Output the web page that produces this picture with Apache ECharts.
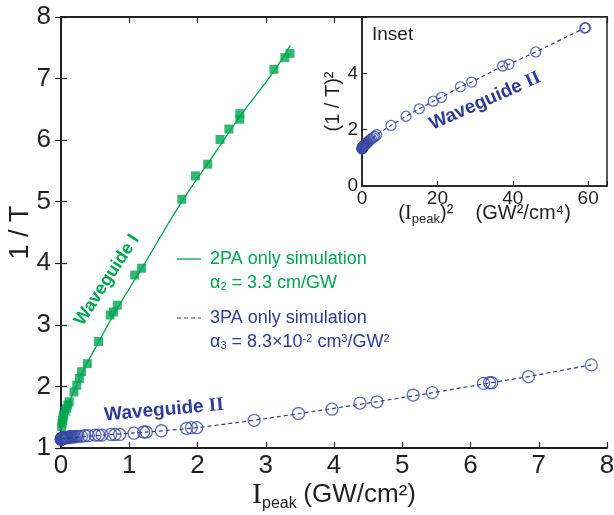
<!DOCTYPE html>
<html>
<head>
<meta charset="utf-8">
<script src="https://cdn.jsdelivr.net/npm/echarts@6/dist/echarts.min.js"></script>
<style>
  html, body { margin: 0; padding: 0; background: #fff; }
  #chart { width: 614px; height: 515px; }
</style>
</head>
<body>
<div id="chart"></div>
<script>
// waveguide I, measured (filled squares)
const sqX = [0.01, 0.015, 0.025, 0.03, 0.04, 0.06, 0.08, 0.1, 0.12, 0.19, 0.23, 0.27, 0.30, 0.385, 0.55, 0.72, 0.77, 0.825, 1.08, 1.18, 1.77, 1.97, 2.15, 2.33, 2.46, 2.62, 2.62, 3.12, 3.28, 3.355]
const sqY = [1.35, 1.40, 1.45, 1.50, 1.54, 1.60, 1.64, 1.70, 1.75, 1.91, 2.02, 2.13, 2.24, 2.37, 2.73, 3.16, 3.21, 3.32, 3.81, 3.92, 5.04, 5.42, 5.61, 6.01, 6.18, 6.34, 6.43, 7.15, 7.34, 7.41]
// 2PA only simulation
const simX = [0, 0.1, 0.3, 0.55, 0.8, 1.2, 1.77, 2.2, 2.62, 3.12, 3.36]
const simY = [1.33, 1.68, 2.2, 2.72, 3.22, 3.95, 5.0, 5.7, 6.38, 7.12, 7.54]
// waveguide II, measured (open circles)
const cX = [0.002, 0.004, 0.006, 0.008, 0.01, 0.012, 0.015, 0.018, 0.02, 0.022, 0.026, 0.03, 0.035, 0.04, 0.045, 0.05, 0.055, 0.06, 0.065, 0.07, 0.075, 0.085, 0.09, 0.1, 0.11, 0.12, 0.13, 0.14, 0.15, 0.16, 0.18, 0.2, 0.22, 0.25, 0.3, 0.35, 0.40, 0.50, 0.55, 0.60, 0.73, 0.79, 0.86, 1.07, 1.21, 1.25, 1.47, 1.84, 1.91, 1.99, 2.83, 3.48, 3.97, 4.38, 4.63, 5.16, 5.44, 6.19, 6.28, 6.31, 6.85, 7.77]
const cY = [1.14, 1.14, 1.15, 1.15, 1.15, 1.15, 1.15, 1.16, 1.16, 1.16, 1.16, 1.16, 1.16, 1.16, 1.17, 1.17, 1.17, 1.17, 1.17, 1.17, 1.17, 1.17, 1.17, 1.17, 1.17, 1.18, 1.18, 1.18, 1.18, 1.18, 1.18, 1.18, 1.19, 1.19, 1.19, 1.2, 1.2, 1.21, 1.21, 1.21, 1.22, 1.22, 1.22, 1.24, 1.26, 1.26, 1.28, 1.32, 1.33, 1.33, 1.45, 1.56, 1.63, 1.73, 1.75, 1.86, 1.90, 2.05, 2.06, 2.06, 2.16, 2.35]
// 3PA only simulation
const sim3X = [0, 0.5, 1.0, 1.5, 2.0, 2.83, 3.5, 4.5, 5.3, 6.3, 6.85, 7.77]
const sim3Y = [1.15, 1.2, 1.24, 1.28, 1.33, 1.45, 1.56, 1.73, 1.87, 2.06, 2.16, 2.35]
// inset: (I_peak)^2 vs (1/T)^2
const inX = [0.01, 0.02, 0.04, 0.05, 0.07, 0.1, 0.13, 0.16, 0.2, 0.25, 0.3, 0.4, 0.5, 0.6, 0.7, 0.8, 0.9, 1.0, 1.2, 1.4, 1.5, 1.8, 2.1, 2.5, 3.0, 3.4, 3.9, 7.7, 11.7, 15.2, 18.9, 21.1, 26.1, 29.1, 37.3, 39.0, 46.1, 59.1, 59.3]
const inY = [1.31, 1.33, 1.34, 1.34, 1.35, 1.36, 1.37, 1.37, 1.38, 1.39, 1.40, 1.42, 1.43, 1.44, 1.45, 1.47, 1.48, 1.50, 1.52, 1.54, 1.55, 1.59, 1.64, 1.67, 1.72, 1.76, 1.82, 2.15, 2.48, 2.74, 3.01, 3.15, 3.52, 3.69, 4.26, 4.32, 4.76, 5.61, 5.62]
const inLineX = [0, 1, 2.1, 3.9, 7.7, 11.7, 15.2, 18.9, 21.1, 26.1, 29.1, 37.3, 39.0, 46.1, 59.1]
const inLineY = [1.33, 1.5, 1.64, 1.82, 2.15, 2.48, 2.74, 3.01, 3.15, 3.52, 3.69, 4.26, 4.32, 4.76, 5.61]

const GREEN = '#00a650'
const BLUE = '#2e3b98'
const RING = '#3a4aa6'
const INK = '#231f20'
const SANS = 'Liberation Sans'
const SERIF = 'Liberation Serif'

const zip = (xs, ys) => xs.map((x, i) => [x, ys[i]])

const myChart = echarts.init(document.getElementById('chart'))

const mainAxisX = (pos, showLabel) => ({
  type: 'value', gridIndex: 0, position: pos, min: 0, max: 8, interval: 1,
  splitLine: { show: false },
  axisLine: { lineStyle: { color: INK, width: 2 } },
  axisTick: { inside: true, length: 6, lineStyle: { color: INK, width: 1.2 } },
  axisLabel: { show: showLabel, fontSize: 26, fontFamily: SANS, color: INK, margin: 5 }
})
const mainAxisY = (pos, showLabel) => ({
  type: 'value', gridIndex: 0, position: pos, min: 1, max: 8, interval: 1,
  splitLine: { show: false },
  axisLine: { lineStyle: { color: INK, width: 2 } },
  axisTick: { inside: true, length: 6, lineStyle: { color: INK, width: 1.2 } },
  axisLabel: { show: showLabel, fontSize: 26, fontFamily: SANS, color: INK, margin: 10 }
})

const xMain = mainAxisX('bottom', true)
xMain.name = '{i|I}{sub|peak}  {t|(GW/cm²)}'
xMain.nameLocation = 'middle'
xMain.nameGap = 30
xMain.nameMoveOverlap = false
xMain.nameTextStyle = {
  color: INK,
  rich: {
    i: { fontFamily: SERIF, fontSize: 30, color: INK, lineHeight: 34 },
    sub: { fontFamily: SANS, fontSize: 16, color: INK, lineHeight: 16, verticalAlign: 'bottom' },
    t: { fontFamily: SANS, fontSize: 26, color: INK, lineHeight: 34 }
  }
}
const yMain = mainAxisY('left', true)
yMain.name = '1 / T'
yMain.nameLocation = 'middle'
yMain.nameGap = 27
yMain.nameMoveOverlap = false
yMain.nameTextStyle = { fontFamily: SANS, fontSize: 27, color: INK }

const wgRich = (color) => ({
  s: { fontFamily: SERIF, fontWeight: 'bold', fontSize: 19, fill: color }
})

const option = {
  animation: false,
  backgroundColor: '#fff',
  grid: [
    { left: 61, top: 17, right: 7, bottom: 67, outerBoundsMode: 'none', containLabel: false },
    { left: 362, top: 17, right: 7, height: 169, z: 10, show: true, backgroundColor: '#fff', borderColor: INK, borderWidth: 1.5, outerBoundsMode: 'none', containLabel: false }
  ],
  xAxis: [
    xMain,
    mainAxisX('top', false),
    {
      type: 'value', gridIndex: 1, min: 0, max: 65, interval: 20, z: 11,
      splitLine: { show: false },
      axisLine: { lineStyle: { color: INK, width: 1.5 } },
      axisTick: { inside: true, length: 5, lineStyle: { color: INK } },
      axisLabel: { fontSize: 19, fontFamily: SANS, color: INK, margin: 3, formatter: v => (v % 20 === 0 ? v : '') },
      name: '{t|(}{i|I}{sub|peak}{t|)²    (GW²/cm⁴)}',
      nameLocation: 'middle',
      nameGap: 14,
      nameMoveOverlap: false,
      nameTextStyle: {
        color: INK,
        rich: {
          i: { fontFamily: SERIF, fontSize: 21, color: INK, lineHeight: 26 },
          sub: { fontFamily: SANS, fontSize: 13, color: INK, lineHeight: 13, verticalAlign: 'bottom' },
          t: { fontFamily: SANS, fontSize: 20, color: INK, lineHeight: 26 }
        }
      }
    }
  ],
  yAxis: [
    yMain,
    mainAxisY('right', false),
    {
      type: 'value', gridIndex: 1, min: 0, max: 6, interval: 2, z: 11,
      splitLine: { show: false },
      axisLine: { lineStyle: { color: INK, width: 1.5 } },
      axisTick: { inside: true, length: 5, lineStyle: { color: INK } },
      axisLabel: { fontSize: 19, fontFamily: SANS, color: INK, margin: 4, formatter: v => (v < 6 ? v : '') },
      name: '(1 / T)²',
      nameLocation: 'middle',
      nameGap: 19,
      nameMoveOverlap: false,
      nameTextStyle: { fontFamily: SANS, fontSize: 20, color: INK }
    }
  ],
  series: [
    {
      name: '2PA only simulation', type: 'line', xAxisIndex: 0, yAxisIndex: 0,
      showSymbol: false, smooth: true,
      lineStyle: { color: GREEN, width: 1.3 },
      data: zip(simX, simY)
    },
    {
      name: 'Waveguide I', type: 'scatter', xAxisIndex: 0, yAxisIndex: 0,
      symbol: 'rect', symbolSize: 9,
      itemStyle: { color: GREEN },
      data: zip(sqX, sqY)
    },
    {
      name: '3PA only simulation', type: 'line', xAxisIndex: 0, yAxisIndex: 0,
      showSymbol: false,
      lineStyle: { color: BLUE, width: 1.2, type: [4, 3] },
      data: zip(sim3X, sim3Y)
    },
    {
      name: 'Waveguide II', type: 'scatter', xAxisIndex: 0, yAxisIndex: 0,
      symbol: 'circle', symbolSize: 12,
      itemStyle: { color: 'rgba(255,255,255,0)', borderColor: RING, borderWidth: 1.3 },
      data: zip(cX, cY)
    },
    {
      name: 'inset line', type: 'line', xAxisIndex: 2, yAxisIndex: 2, z: 12,
      showSymbol: false,
      lineStyle: { color: BLUE, width: 1.2, type: [4, 3] },
      data: zip(inLineX, inLineY)
    },
    {
      name: 'inset points', type: 'scatter', xAxisIndex: 2, yAxisIndex: 2, z: 13,
      symbol: 'circle', symbolSize: 10,
      itemStyle: { color: 'rgba(255,255,255,0)', borderColor: RING, borderWidth: 1.3 },
      data: zip(inX, inY)
    }
  ],
  graphic: [
    { type: 'text', x: 107, y: 280, rotation: 57 * Math.PI / 180, z: 20,
      style: { text: 'Waveguide I', fill: GREEN, font: 'bold 18px "Liberation Sans"', align: 'center', verticalAlign: 'middle' } },
    { type: 'text', x: 164, y: 410, rotation: 5 * Math.PI / 180, z: 20,
      style: { text: 'Waveguide {s|II}', fill: BLUE, font: 'bold 19px "Liberation Sans"', align: 'center', verticalAlign: 'middle', rich: wgRich(BLUE) } },
    { type: 'text', x: 485, y: 101, rotation: 24 * Math.PI / 180, z: 20,
      style: { text: 'Waveguide {s|II}', fill: BLUE, font: 'bold 19px "Liberation Sans"', align: 'center', verticalAlign: 'middle', rich: wgRich(BLUE) } },
    { type: 'text', x: 372, y: 35, z: 20,
      style: { text: 'Inset', fill: INK, font: '19px "Liberation Sans"', align: 'left', verticalAlign: 'middle' } },
    // legend
    { type: 'line', z: 20, shape: { x1: 177, y1: 259, x2: 201, y2: 259 }, style: { stroke: GREEN, lineWidth: 1.3 } },
    { type: 'text', x: 210, y: 259, z: 20,
      style: { text: '2PA only simulation', fill: GREEN, font: '18px "Liberation Sans"', verticalAlign: 'middle' } },
    { type: 'text', x: 210, y: 283, z: 20,
      style: {
        text: 'α{sub|2} = 3.3 cm/GW', fill: GREEN, font: '18px "Liberation Sans"', verticalAlign: 'middle',
        rich: { sub: { fontSize: 11, fill: GREEN, lineHeight: 11, verticalAlign: 'bottom', fontFamily: SANS } }
      } },
    { type: 'line', z: 20, shape: { x1: 177, y1: 318, x2: 201, y2: 318 }, style: { stroke: BLUE, lineWidth: 1.2, lineDash: [4, 3] } },
    { type: 'text', x: 210, y: 318, z: 20,
      style: { text: '3PA only simulation', fill: BLUE, font: '18px "Liberation Sans"', verticalAlign: 'middle' } },
    { type: 'text', x: 210, y: 342, z: 20,
      style: {
        text: 'α{sub|3} = 8.3×10{sup|-2} cm{sup|3}/GW{sup|2}', fill: BLUE, font: '18px "Liberation Sans"', verticalAlign: 'middle',
        rich: {
          sub: { fontSize: 11, fill: BLUE, lineHeight: 11, verticalAlign: 'bottom', fontFamily: SANS },
          sup: { fontSize: 11, fill: BLUE, lineHeight: 11, verticalAlign: 'top', fontFamily: SANS }
        }
      } }
  ]
}
myChart.setOption(option)
</script>
</body>
</html>
